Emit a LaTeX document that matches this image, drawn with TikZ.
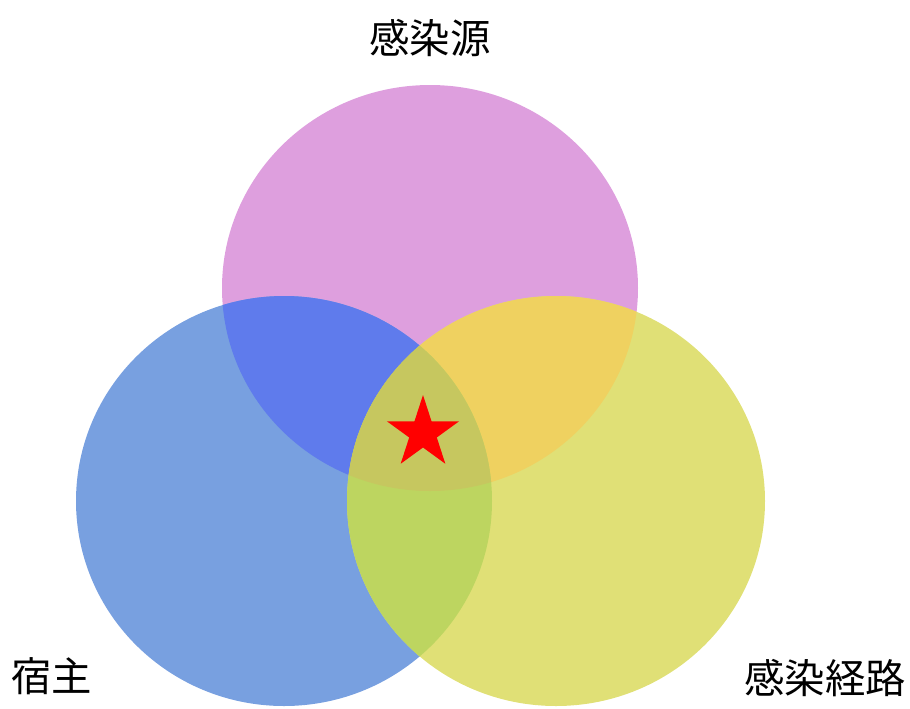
\documentclass[tikz,border=0pt]{standalone}
\usepackage{fontspec}
\newfontfamily\cjk{Noto Sans CJK JP}
\usetikzlibrary{shapes.geometric}

\definecolor{sourcecol}{HTML}{DE9FDE}
\definecolor{hostcol}{HTML}{78A0E0}
\definecolor{routecol}{HTML}{E0E076}
\definecolor{sourcehostcol}{HTML}{5F7BEC}
\definecolor{sourceroutecol}{HTML}{EFD160}
\definecolor{hostroutecol}{HTML}{BDD560}
\definecolor{allcol}{HTML}{C6C75F}

\newcommand{\sourcecirc}{(430,288) ellipse [x radius=208, y radius=203]}
\newcommand{\hostcirc}{(284,501) ellipse [x radius=208, y radius=205]}
\newcommand{\routecirc}{(556,501) ellipse [x radius=209, y radius=205]}

\begin{document}
\begin{tikzpicture}[x=0.02cm, y=-0.02cm,
  caption/.style ={font=\cjk\fontsize{23}{28}\selectfont, inner sep=0pt},
  starmark/.style ={star, star points=5, star point ratio=2.618, fill=red, minimum size=1.52cm, inner sep=0pt}]
 \useasboundingbox (0,0) rectangle (910,708);

 % circles
 \fill[sourcecol] \sourcecirc;
 \fill[hostcol] \hostcirc;
 \fill[routecol] \routecirc;

 % overlaps
 \begin{scope}
  \clip \sourcecirc;
  \fill[sourcehostcol] \hostcirc;
  \fill[sourceroutecol] \routecirc;
 \end{scope}
 \begin{scope}
  \clip \hostcirc;
  \fill[hostroutecol] \routecirc;
  \clip \routecirc;
  \fill[allcol] \sourcecirc;
 \end{scope}

 \node[starmark] (X) at (423,433) {};

 \node[caption] (A) at (430,38)  {感染源};
 \node[caption] (B) at (52,676)  {宿主};
 \node[caption] (C) at (825,678) {感染経路};
\end{tikzpicture}
\end{document}
